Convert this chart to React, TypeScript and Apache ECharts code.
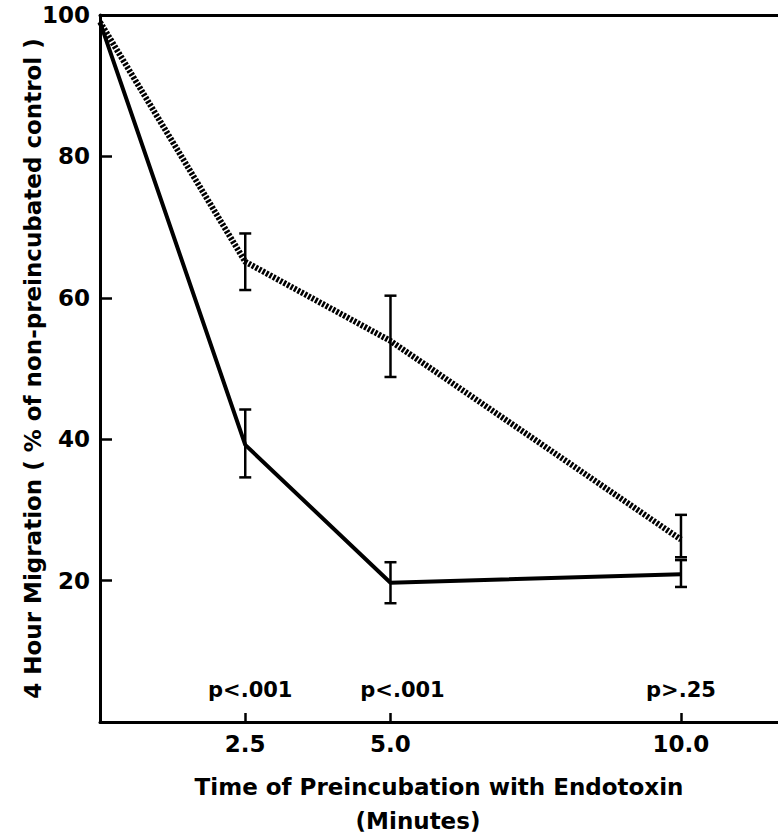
import React, { useEffect, useRef } from "react";
import * as echarts from "echarts";

// Preincubation time (minutes)
const timePoints = [0, 2.5, 5, 10];
// 4 hour migration, % of non-preincubated control
const solidValues = [99, 39.2, 19.7, 20.9];
const dottedValues = [99, 65.1, 53.9, 25.8];
// error bars (times 2.5, 5, 10)
const errTimes = [2.5, 5, 10];
const solidLow = [34.6, 16.8, 19.1];
const solidHigh = [44.2, 22.6, 22.9];
const dottedLow = [61.1, 48.8, 23.3];
const dottedHigh = [69.1, 60.3, 29.3];
// significance annotations
const pLabels = ["p<.001", "p<.001", "p>.25"];
const pLabelY = 4.5;
// ticks
const xTicks = [2.5, 5, 10];
const yLabels = [20, 40, 60, 80, 100];
const yTickMarks = [20, 40, 60, 80];

// layout-only horizontal nudges of the p annotations (pixels)
const pLabelNudge = [5, 12, 0];

const FONT = "DejaVu Sans";

export default function App() {
  const ref = useRef<HTMLDivElement>(null);
  useEffect(() => {
    if (!ref.current) return;
    const chart = echarts.init(ref.current, null, { renderer: "svg" });
    const errRender = (params: any, api: any) => {
      const x = api.value(0);
      const lo = api.coord([x, api.value(1)]);
      const hi = api.coord([x, api.value(2)]);
      const w = 6;
      return {
        type: "group",
        children: [
          { type: "line", shape: { x1: lo[0], y1: lo[1], x2: hi[0], y2: hi[1] }, style: { stroke: "#000", lineWidth: 2.5 } },
          { type: "line", shape: { x1: lo[0] - w, y1: lo[1], x2: lo[0] + w, y2: lo[1] }, style: { stroke: "#000", lineWidth: 2.5 } },
          { type: "line", shape: { x1: hi[0] - w, y1: hi[1], x2: hi[0] + w, y2: hi[1] }, style: { stroke: "#000", lineWidth: 2.5 } },
        ],
      };
    };
    const option: any = {
      animation: false,
      backgroundColor: "#fff",
      grid: { left: 100, top: 15, right: 0, bottom: 113 },
      xAxis: [
        {
          type: "value",
          min: 0,
          max: 11.67,
          interval: 2.5,
          splitLine: { show: false },
          axisLine: { lineStyle: { color: "#000", width: 3 } },
          axisTick: { inside: true, length: 9, customValues: xTicks, lineStyle: { color: "#000", width: 2.5 } },
          axisLabel: {
            customValues: xTicks,
            formatter: (v: number) => v.toFixed(1),
            color: "#000",
            fontFamily: FONT,
            fontWeight: "bold",
            fontSize: 23,
            margin: 10,
          },
          name: "Time of Preincubation with Endotoxin",
          nameLocation: "middle",
          nameGap: 53,
          nameTextStyle: { color: "#000", fontFamily: FONT, fontWeight: "bold", fontSize: 23 },
        },
        {
          type: "value",
          position: "top",
          min: 0,
          max: 11.67,
          splitLine: { show: false },
          axisLine: { lineStyle: { color: "#000", width: 3 } },
          axisTick: { show: false },
          axisLabel: { show: false },
        },
      ],
      yAxis: {
        type: "value",
        min: 0,
        max: 100,
        interval: 20,
        splitLine: { show: false },
        axisLine: { lineStyle: { color: "#000", width: 3 } },
        axisTick: { inside: true, length: 12, customValues: yTickMarks, lineStyle: { color: "#000", width: 2.5 } },
        axisLabel: {
          customValues: yLabels,
          color: "#000",
          fontFamily: FONT,
          fontWeight: "bold",
          fontSize: 23,
          margin: 10,
        },
        name: "4 Hour Migration ( % of non-preincubated control )",
        nameLocation: "middle",
        nameRotate: 90,
        nameGap: 56,
        nameMoveOverlap: false,
        nameTextStyle: { color: "#000", fontFamily: FONT, fontWeight: "bold", fontSize: 23 },
      },
      graphic: [
        {
          type: "text",
          x: 418,
          y: 821,
          style: {
            text: "(Minutes)",
            fill: "#000",
            font: `bold 23px ${FONT}`,
            align: "center",
            verticalAlign: "middle",
          },
        },
      ],
      series: [
        {
          type: "line",
          data: timePoints.map((t, i) => [t, solidValues[i]]),
          symbol: "none",
          lineStyle: { color: "#000", width: 4 },
          z: 3,
        },
        {
          type: "line",
          data: timePoints.map((t, i) => [t, dottedValues[i]]),
          symbol: "none",
          lineStyle: { color: "#000", width: 6, type: [2.5, 1.5] },
          z: 3,
        },
        {
          type: "custom",
          renderItem: errRender,
          data: errTimes.map((t, i) => [t, solidLow[i], solidHigh[i]]),
          z: 4,
        },
        {
          type: "custom",
          renderItem: errRender,
          data: errTimes.map((t, i) => [t, dottedLow[i], dottedHigh[i]]),
          z: 4,
        },
        {
          type: "scatter",
          symbolSize: 0,
          itemStyle: { opacity: 1 },
          data: errTimes.map((t, i) => ({
            value: [t, pLabelY],
            label: { formatter: pLabels[i], offset: [pLabelNudge[i], 0] },
          })),
          label: {
            show: true,
            position: "inside",
            color: "#000",
            opacity: 1,
            fontFamily: FONT,
            fontWeight: "bold",
            fontSize: 21,
          },
          silent: true,
        },
      ],
    };
    chart.setOption(option);
    return () => chart.dispose();
  }, []);
  return (
    <div
      ref={ref}
      style={{ position: "fixed", left: 0, top: 0, width: 778, height: 835, background: "#fff" }}
    />
  );
}
